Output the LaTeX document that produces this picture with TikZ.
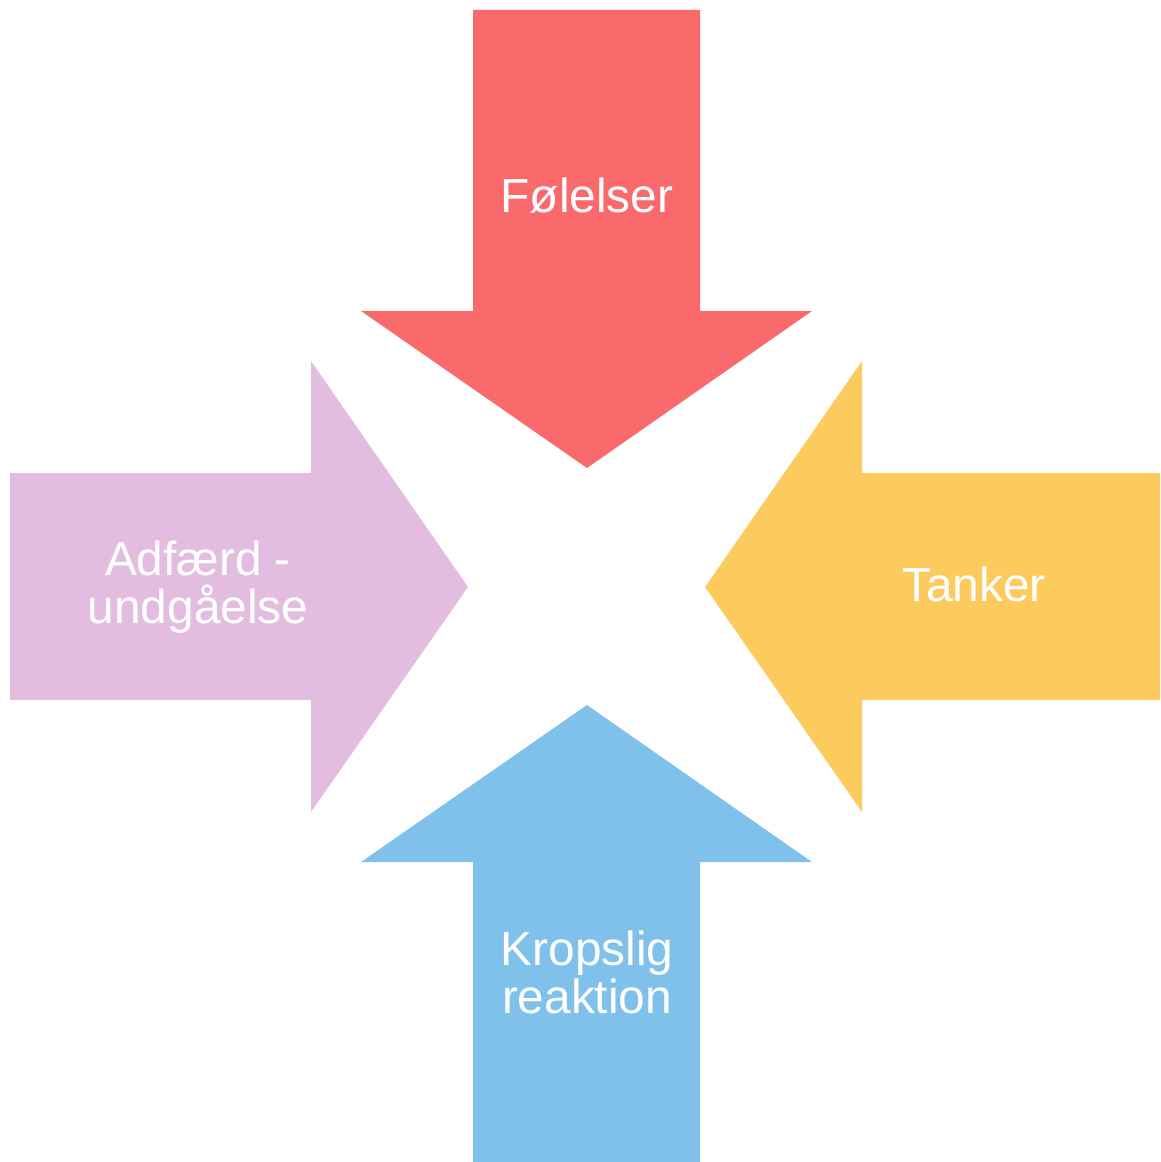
\documentclass[tikz,border=0pt]{standalone}
\usepackage{fontspec}
\setmainfont{Liberation Sans}
\definecolor{feelred}{HTML}{FA6A6C}
\definecolor{thinkyellow}{HTML}{FDCB5D}
\definecolor{bodyblue}{HTML}{7FC1EB}
\definecolor{actpurple}{HTML}{E2BDE0}
\begin{document}
\begin{tikzpicture}[
    x=0.02cm,
    y=-0.02cm,
    arrowlabel/.style={text=white, align=center, font=\fontsize{27.2}{27.4}\selectfont}
]
\useasboundingbox (0,0) rectangle (1160,1162);

% Top arrow (feelings)
\fill[feelred] (473,10) -- (700,10) -- (700,311) -- (812,311) -- (587,468)
    -- (361,311) -- (473,311) -- cycle;
\node[arrowlabel] (feel) at (587,196) {Følelser};

% Right arrow (thoughts)
\fill[thinkyellow] (1160,473) -- (1160,700) -- (862,700) -- (862,812) -- (705,587)
    -- (862,361) -- (862,473) -- cycle;
\node[arrowlabel] (think) at (974,584) {Tanker};

% Bottom arrow (body)
\fill[bodyblue] (473,1162) -- (700,1162) -- (700,862) -- (812,862) -- (587,705)
    -- (361,862) -- (473,862) -- cycle;
\node[arrowlabel] (body) at (587,972) {Kropslig\\reaktion};

% Left arrow (behaviour)
\fill[actpurple] (10,473) -- (10,700) -- (311,700) -- (311,812) -- (468,587)
    -- (311,361) -- (311,473) -- cycle;
\node[arrowlabel] (act) at (198,587) {Adfærd -\\undgåelse};

\end{tikzpicture}
\end{document}
